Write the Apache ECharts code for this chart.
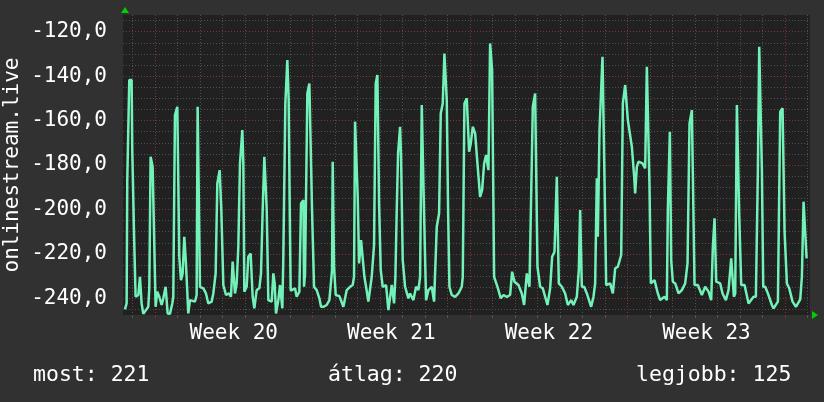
<!DOCTYPE html>
<html>
<head>
<meta charset="utf-8">
<script src="https://cdn.jsdelivr.net/npm/echarts@6/dist/echarts.min.js"></script>
<style>
  html, body { margin: 0; padding: 0; background: #313131; }
  #chart { width: 824px; height: 402px; }
</style>
</head>
<body>
<div id="chart"></div>
<script>
// time in days from the start of Week 20
const dayT = [
  -1.334, -1.259, -1.230, -1.141, -1.037, -1.008, -0.934, -0.860, -0.741, -0.667, -0.593, -0.519, -0.400, -0.297, -0.252,
  -0.193, -0.104, -0.045, 0.029, 0.103, 0.192, 0.296, 0.370, 0.474, 0.563, 0.666, 0.770, 0.814, 0.888, 0.992, 1.037,
  1.081, 1.155, 1.229, 1.303, 1.377, 1.481, 1.555, 1.777, 1.851, 1.896, 1.955, 2.000, 2.148, 2.266, 2.370, 2.518, 2.592,
  2.696, 2.770, 2.874, 2.948, 3.037, 3.155, 3.289, 3.377, 3.451, 3.555, 3.629, 3.703, 3.777, 3.881, 3.926, 3.970, 4.074,
  4.148, 4.251, 4.340, 4.414, 4.518, 4.637, 4.711, 4.785, 4.859, 4.963, 5.037, 5.185, 5.259, 5.318, 5.377, 5.481, 5.555,
  5.659, 5.703, 5.792, 5.881, 5.940, 5.985, 6.029, 6.074, 6.222, 6.296, 6.415, 6.489, 6.593, 6.622, 6.667, 6.770, 6.859,
  6.919, 6.978, 7.067, 7.185, 7.304, 7.378, 7.481, 7.630, 7.748, 7.822, 7.867, 7.896, 7.956, 8.030, 8.193, 8.370, 8.444,
  8.519, 8.667, 8.785, 8.844, 8.889, 8.963, 9.007, 9.067, 9.156, 9.230, 9.304, 9.378, 9.481, 9.630, 9.733, 9.807, 9.881,
  9.956, 10.030, 10.119, 10.267, 10.370, 10.415, 10.519, 10.622, 10.681, 10.741, 10.800, 10.889, 10.933, 11.007, 11.111,
  11.259, 11.333, 11.481, 11.600, 11.704, 11.778, 11.852, 11.956, 12.044, 12.148, 12.296, 12.400, 12.519, 12.622, 12.696,
  12.785, 12.859, 12.919, 12.963, 13.022, 13.081, 13.185, 13.333, 13.481, 13.630, 13.674, 13.748, 13.852, 13.956, 14.030,
  14.119, 14.223, 14.326, 14.445, 14.534, 14.623, 14.711, 14.815, 14.889, 14.978, 15.067, 15.215, 15.363, 15.482, 15.630,
  15.778, 15.867, 15.971, 16.148, 16.297, 16.400, 16.519, 16.637, 16.711, 16.786, 16.889, 16.934, 16.993, 17.111, 17.230,
  17.334, 17.437, 17.556, 17.645, 17.749, 17.852, 17.941, 18.075, 18.223, 18.341, 18.489, 18.593, 18.741, 18.830, 18.889,
  18.963, 19.067, 19.186, 19.378, 19.482, 19.556, 19.630, 19.674, 19.749, 19.882, 19.971, 20.045, 20.223, 20.341, 20.445,
  20.563, 20.712, 20.786, 20.889, 21.008, 21.186, 21.289, 21.333, 21.407, 21.481, 21.659, 21.777, 21.852, 21.926, 21.970,
  22.029, 22.192, 22.340, 22.444, 22.637, 22.740, 22.785, 22.874, 22.933, 23.007, 23.111, 23.259, 23.407, 23.555, 23.659,
  23.748, 23.852, 23.911, 23.970, 24.118, 24.296, 24.444, 24.592, 24.711, 24.785, 24.859, 24.933, 25.111, 25.214, 25.363,
  25.481, 25.600, 25.718, 25.777, 25.852, 25.955, 26.044, 26.192, 26.370, 26.592, 26.696, 26.785, 26.844, 26.904, 26.963,
  27.022, 27.111, 27.229, 27.407, 27.481, 27.674, 27.777, 27.881, 27.970, 28.074, 28.178, 28.326, 28.474, 28.666, 28.740,
  28.814, 28.888, 28.948, 28.977
];
const liveVals = [
  -245.0, -242.3, -186.8, -141.8, -141.8, -173.3, -209.3, -239.3, -238.5, -230.3, -242.3, -247.0, -245.3, -243.8, -235.5,
  -176.3, -180.8, -180.8, -243.8, -237.0, -239.3, -243.0, -240.0, -234.8, -246.8, -247.0, -242.3, -239.3, -157.5, -153.8, -153.8,
  -221.3, -231.8, -228.8, -212.3, -224.3, -246.8, -240.8, -241.5, -238.5, -153.8, -153.8, -234.8, -235.5, -237.8, -242.3, -241.5, -237.8,
  -228.8, -188.3, -182.3, -200.3, -234.0, -238.5, -237.8, -239.3, -223.5, -237.8, -233.3, -216.8, -179.3, -164.3, -179.3, -237.0, -234.8,
  -221.3, -219.8, -239.3, -244.5, -236.3, -235.5, -228.8, -200.3, -176.3, -199.5, -240.8, -241.5, -228.8, -233.3, -246.8, -240.8, -234.0,
  -244.5, -221.3, -152.3, -132.8, -150.8, -197.3, -236.5, -236.3, -235.5, -239.3, -237.0, -197.3, -195.8, -234.8, -228.8, -147.8, -143.3,
  -143.3, -200.3, -234.8, -236.3, -240.0, -243.8, -243.8, -243.0, -240.8, -241.5, -227.3, -178.5, -225.8, -238.5, -239.0, -243.8, -244.5,
  -236.3, -234.8, -234.0, -230.3, -160.5, -161.3, -194.3, -224.3, -213.8, -213.8, -230.3, -234.8, -241.5, -230.3, -216.0, -143.3, -139.5,
  -197.3, -227.3, -234.8, -234.0, -245.3, -246.0, -234.0, -242.3, -230.3, -200.3, -174.8, -162.8, -176.3, -222.8, -234.8,
  -240.0, -237.8, -240.8, -234.8, -236.3, -230.3, -153.0, -202.5, -240.8, -236.3, -234.8, -241.5, -207.8, -201.8, -156.8,
  -152.3, -129.8, -129.8, -150.8, -200.3, -234.8, -238.5, -239.3, -237.8, -234.8, -230.3, -152.3, -150.0, -174.0, -170.3,
  -162.8, -165.8, -179.3, -194.3, -191.3, -179.3, -175.5, -182.3, -125.3, -137.3, -230.3, -234.8, -240.0, -238.5, -239.3,
  -238.5, -228.0, -232.5, -234.0, -237.8, -243.0, -228.8, -234.8, -234.8, -153.8, -147.8, -147.8, -225.8, -234.8, -235.5,
  -239.3, -243.0, -235.5, -221.3, -219.0, -185.3, -233.3, -234.8, -237.8, -243.0, -240.8, -243.0, -239.3, -227.3, -200.3,
  -234.8, -234.8, -237.8, -243.8, -239.3, -233.3, -186.0, -212.3, -164.5, -131.3, -186.8, -234.0, -233.3, -237.8, -226.5,
  -225.8, -220.5, -152.3, -144.0, -159.8, -171.8, -185.3, -192.8, -180.8, -178.5, -179.3, -181.5, -135.8, -135.8, -189.8,
  -233.3, -231.8, -237.8, -240.8, -239.3, -240.8, -200.3, -165.0, -222.8, -232.5, -233.3, -237.8, -236.3, -233.3, -224.3,
  -161.3, -155.3, -155.3, -234.0, -234.0, -238.5, -234.8, -237.0, -240.8, -216.8, -204.0, -232.5, -233.3, -237.8, -240.8,
  -236.3, -222.0, -239.3, -237.8, -153.0, -202.5, -234.0, -234.0, -242.3, -239.3, -239.3, -182.3, -126.8, -126.8, -182.3,
  -234.8, -234.8, -237.8, -243.0, -244.5, -241.5, -156.0, -154.5, -210.0, -233.3, -235.5, -241.5, -243.8, -240.5, -230.3,
  -196.5, -196.5, -222.0, -222.0
];
const yMajor = [-240, -220, -200, -180, -160, -140, -120];
const yMinor = [-245, -235, -230, -225, -215, -210, -205, -195, -190, -185, -175, -170, -165, -155, -150, -145, -135, -130, -125, -115];
const dayLines = [-1, 1, 2, 3, 4, 5, 6, 8, 9, 10, 11, 12, 13, 15, 16, 17, 18, 19, 20, 22, 23, 24, 25, 26, 27, 29];
const weekLines = [0, 7, 14, 21, 28];
const weekPos = [3.5, 10.5, 17.5, 24.5];
const weekNames = ['Week 20', 'Week 21', 'Week 22', 'Week 23'];
const statNames = ['most: 221', 'átlag: 220', 'legjobb: 125'];

const FONT = 'DejaVu Sans Mono';
const xMin = -1.42, xMax = 29.1;
const yMin = -247.5, yMax = -112.5;

let myChart = echarts.init(document.getElementById('chart'));

let option = {
    backgroundColor: '#313131',
    animation: false,
    grid: {
        left: 123, right: 14, top: 15, bottom: 87,
        outerBoundsMode: 'none',
        containLabel: false,
        show: true,
        backgroundColor: '#212121',
        borderWidth: 0
    },
    xAxis: [{
        type: 'value', min: xMin, max: xMax,
        axisLine: {show: false},
        axisTick: {show: true, customValues: dayLines, length: 3, lineStyle: {color: '#555555'}},
        axisLabel: {show: false},
        splitLine: {show: true, lineStyle: {color: '#505050', type: [1, 2]}}
    }, {
        type: 'value', min: xMin, max: xMax, position: 'bottom',
        axisLine: {show: false},
        axisTick: {show: true, customValues: weekLines, length: 3, lineStyle: {color: '#7a3030'}},
        axisLabel: {
            show: true,
            customValues: weekPos,
            formatter: v => weekNames[weekPos.indexOf(v)],
            color: '#ffffff', fontFamily: FONT, fontSize: 21, margin: 8
        },
        splitLine: {show: true, lineStyle: {color: '#7a3838', type: [1, 2]}}
    }],
    yAxis: [{
        type: 'value', min: yMin, max: yMax,
        axisLine: {show: false},
        axisTick: {show: false, customValues: yMinor},
        axisLabel: {show: false},
        splitLine: {show: true, lineStyle: {color: '#505050', type: [1, 2]}}
    }, {
        type: 'value', min: yMin, max: yMax, position: 'left',
        name: 'onlinestream.live',
        nameLocation: 'middle',
        nameRotate: 90,
        nameGap: 100,
        nameMoveOverlap: false,
        nameTextStyle: {color: '#ffffff', fontFamily: FONT, fontSize: 21},
        axisLine: {show: false},
        axisTick: {show: false, customValues: yMajor},
        axisLabel: {
            show: true,
            customValues: yMajor,
            formatter: v => v.toFixed(1).replace('.', ','),
            color: '#ffffff', fontFamily: FONT, fontSize: 21, margin: 16
        },
        splitLine: {show: true, lineStyle: {color: '#7a3838', type: [1, 2]}}
    }],
    series: [{
        type: 'line',
        xAxisIndex: 0,
        yAxisIndex: 0,
        data: dayT.map((t, i) => [t, liveVals[i]]),
        showSymbol: false,
        lineStyle: {color: '#72f2b8', width: 2.5},
        clip: true
    }],
    graphic: [
        {type: 'polygon', shape: {points: [[121, 13], [125, 7], [129, 13]]}, style: {fill: '#00d000'}},
        {type: 'polygon', shape: {points: [[812, 311], [818, 315], [812, 319]]}, style: {fill: '#00d000'}},
        {type: 'text', left: 33, top: 364, style: {text: statNames[0], fill: '#ffffff', font: '21.5px ' + FONT}},
        {type: 'text', left: 328, top: 364, style: {text: statNames[1], fill: '#ffffff', font: '21.5px ' + FONT}},
        {type: 'text', left: 636, top: 364, style: {text: statNames[2], fill: '#ffffff', font: '21.5px ' + FONT}}
    ]
};
myChart.setOption(option);
</script>
</body>
</html>
